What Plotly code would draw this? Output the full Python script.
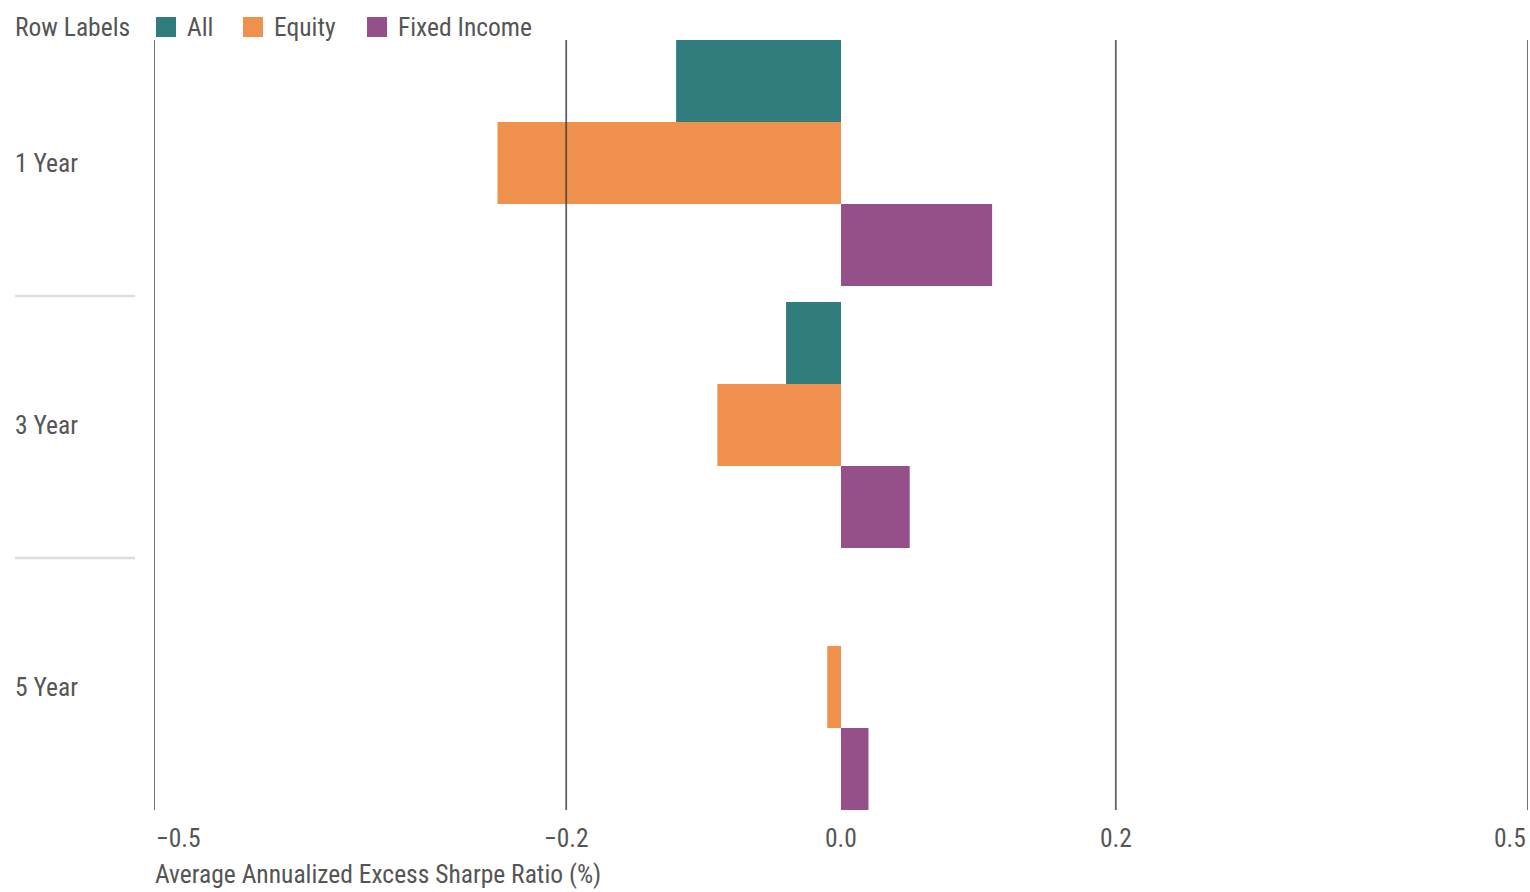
import plotly.graph_objects as go

# Categories and series values
periods = ["1 Year", "3 Year", "5 Year"]
all_vals = [-0.12, -0.04, 0.0]
equity_vals = [-0.25, -0.09, -0.01]
fixed_income_vals = [0.11, 0.05, 0.02]

series_names = ["All", "Equity", "Fixed Income"]
series_colors = ["#317C7C", "#F0904D", "#955089"]

# Axis ticks
tick_vals = [-0.5, -0.2, 0.0, 0.2, 0.5]
tick_text = ["\u22120.5", "\u22120.2", "0.0", "0.2", "0.5"]
grid_vals = [-0.5, -0.2, 0.2, 0.5]

FONT = "Roboto Condensed, Liberation Sans Narrow, DejaVu Sans Condensed, sans-serif"
TEXT_COLOR = "#555555"
FS = 25.5
BARGAP = 0.061

W, H = 1530, 892
ML, MR, MT, MB = 154, 2, 40, 82
PW, PH = W - ML - MR, H - MT - MB


def px_x(px):
    """Pixel column -> paper x."""
    return (px - ML) / PW


def px_y(py):
    """Pixel row -> paper y."""
    return (H - MB - py) / PH


fig = go.Figure()
for name, vals, color in zip(series_names,
                             [all_vals, equity_vals, fixed_income_vals],
                             series_colors):
    fig.add_trace(go.Bar(
        y=periods, x=vals, orientation="h", name=name,
        marker=dict(color=color, line=dict(width=0)),
        showlegend=False,
    ))

shapes = []
# vertical reference lines drawn over the bars
for v in grid_vals:
    shapes.append(dict(type="line", xref="x", yref="paper", x0=v, x1=v,
                       y0=0, y1=1, layer="above",
                       line=dict(color="rgba(60,60,60,0.8)", width=1.8)))
# separators between the row labels
for k in range(len(periods) - 1):
    shapes.append(dict(type="line", xref="paper", yref="y",
                       x0=px_x(15), x1=px_x(135), y0=k + 0.508, y1=k + 0.508,
                       line=dict(color="#DDDDDD", width=2.5)))

annotations = []
# row labels, left aligned
for i, p in enumerate(periods):
    annotations.append(dict(text=p, xref="paper", yref="y", x=px_x(13), y=i,
                            xanchor="left", yanchor="middle", showarrow=False,
                            font=dict(family=FONT, size=FS, color=TEXT_COLOR)))
# x tick labels
for j, (v, t) in enumerate(zip(tick_vals, tick_text)):
    anchor = "left" if j == 0 else ("right" if j == len(tick_vals) - 1 else "center")
    annotations.append(dict(text=t, xref="x", yref="paper", x=v, y=px_y(838),
                            xanchor=anchor, yanchor="middle", showarrow=False,
                            font=dict(family=FONT, size=FS, color=TEXT_COLOR)))
# x axis title
annotations.append(dict(text="Average Annualized Excess Sharpe Ratio (%)",
                        xref="paper", yref="paper", x=px_x(153), y=px_y(874),
                        xanchor="left", yanchor="middle", showarrow=False,
                        font=dict(family=FONT, size=FS, color=TEXT_COLOR)))

# legend row: title, swatches and series names
annotations.append(dict(text="Row Labels", xref="paper", yref="paper",
                        x=px_x(13), y=px_y(27), xanchor="left", yanchor="middle",
                        showarrow=False,
                        font=dict(family=FONT, size=FS, color=TEXT_COLOR)))
swatch_x = [156, 243, 367]
for name, color, sx in zip(series_names, series_colors, swatch_x):
    shapes.append(dict(type="rect", xref="paper", yref="paper",
                       x0=px_x(sx), x1=px_x(sx + 20), y0=px_y(37), y1=px_y(17),
                       fillcolor=color, line=dict(width=0)))
    annotations.append(dict(text=name, xref="paper", yref="paper",
                            x=px_x(sx + 29), y=px_y(27), xanchor="left",
                            yanchor="middle", showarrow=False,
                            font=dict(family=FONT, size=FS, color=TEXT_COLOR)))

fig.update_layout(
    width=W, height=H,
    margin=dict(l=ML, r=MR, t=MT, b=MB),
    paper_bgcolor="white", plot_bgcolor="white",
    barmode="group", bargap=BARGAP, bargroupgap=0,
    font=dict(family=FONT, size=FS, color=TEXT_COLOR),
    xaxis=dict(range=[-0.5, 0.5], showgrid=False, zeroline=False,
               showticklabels=False, ticks="", showline=False,
               tickvals=tick_vals),
    yaxis=dict(type="category", categoryorder="array", categoryarray=periods,
               range=[len(periods) - 0.5 - BARGAP / 2, -0.5 + BARGAP / 2],
               showgrid=False, zeroline=False, showticklabels=False,
               ticks="", showline=False),
    shapes=shapes,
    annotations=annotations,
    showlegend=False,
)

fig.write_html("out.html")
